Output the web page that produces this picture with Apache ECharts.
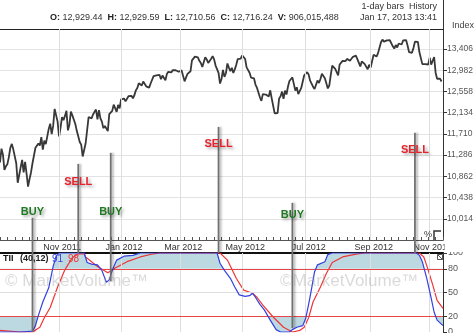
<!DOCTYPE html>
<html><head><meta charset="utf-8">
<script src="https://cdn.jsdelivr.net/npm/echarts@6/dist/echarts.min.js"></script>
<style>html,body{margin:0;padding:0;background:#fff}#c{width:474px;height:333px}</style>
</head><body><div id="c"></div>
<script>
// ---- DATA (x = trading-day index, 0 = 1 Sep 2011) ----
const firstDay = 2;
const closes = [
 11139,11414,11295,10992,11061,11105,11246,11433,11509,11401,11408,11124,10733,10771,11044,11190,10939,11153,10913,
 10655,10809,10939,11123,11103,11433,11417,11519,11478,11644,11397,11577,11505,11541,11809,11913,11706,11869,12209,12232,11955,
 11657,11836,12045,11984,12069,12170,11781,11893,12153,12079,12096,11906,11771,11796,11548,11494,11258,11231,11523,11556,12046,
 12020,12019,12098,12150,12196,11998,12184,12021,11955,11824,11869,11866,11766,12103,12107,12169,12294,12291,12151,12288,12218,
 12398,12418,12416,12360,12393,12462,12449,12471,12422,12482,12579,12625,12720,12709,12675,12757,12735,12660,12623,12633,
 12716,12705,12862,12845,12878,12884,12890,12801,12874,12878,12781,12904,12950,12966,12938,12985,12983,12981,13006,12952,
 12980,12978,12963,12759,12838,12908,12922,12960,13178,13194,13253,13233,13239,13170,13125,13046,13081,13242,13197,13127,13146,13212,
 13264,13199,13075,13060,12930,12716,12806,12987,12850,12921,13116,13033,12965,13029,12928,12999,13090,13204,13229,13214,
 13279,13269,13206,13038,13009,12932,12835,12855,12821,12695,12632,12598,12442,12369,12504,12502,12496,12530,12455,12580,12419,12393,
 12118,12101,12127,12414,12461,12554,12412,12574,12497,12652,12767,12742,12838,12824,12574,12641,12503,12535,12627,12602,12880,
 12871,12943,12897,12773,12736,12653,12605,12573,12777,12727,12806,12909,12943,12822,12721,12617,12676,12887,13075,13073,13009,
 12976,12879,13096,13118,13169,13176,13165,13208,13208,13172,13165,13250,13276,13272,13203,13173,13058,13158,13124,13103,13108,13001,13091,
 13036,13047,13292,13307,13254,13323,13333,13540,13594,13553,13565,13578,13597,13580,13559,13458,13414,13486,13437,
 13515,13483,13495,13575,13610,13584,13474,13345,13326,13329,13424,13551,13558,13548,13344,13346,13103,13078,13104,13107,13096,
 13232,13093,13112,13245,12932,12811,12815,12815,12756
];
const tiiDays  = [2,16,24,26,28,31,35,38,40,42,59,61,64,68,71,74,76,78,81,86,92,97,149,151,154,158,161,164,168,171,173,175,178,181,185,189,192,198,200,203,207,209,211,213,215,217,222,224,227,284,286,288,291,294,296,298,302];
const tiiValues= [0,0,1,8,21,38,56,83,96,100,100,88,86,85,78,63,66,78,91,96,97,100,100,87,78,68,57,47,45,46,49,44,35,28,15,3,0,0,3,6,8,17,35,55,76,85,89,98,100,100,97,89,68,43,25,15,8];
const sigDays  = [2,16,24,29,32,36,41,46,51,55,59,60,68,75,80,88,97,106,110,151,156,162,167,173,176,180,187,194,200,205,208,211,214,219,223,227,234,244,249,286,289,291,295,298,302];
const sigValues= [2,0,0,6,18,31,57,79,94,99,99,95,83,75,81,89,95,99,100,100,91,68,53,49,44,34,19,6,0,2,6,18,38,57,74,88,95,99,100,100,95,84,60,40,30];

const dayMin = 2, dayMax = 302;
const monthDays   = [42,84,124,166,209,253,293];
const monthLabels = ['Nov 2011','Jan 2012','Mar 2012','May 2012','Jul 2012','Sep 2012','Nov 2012'];
const priceMin = 9590, priceMax = 13805, priceStep = 424;
const tiiTicks = [0,20,50,80,100];
const tiiBands = [20,80];

const signalDays   = [24,55,77,150,200,283];
const signalTypes  = ['BUY','SELL','BUY','SELL','BUY','SELL'];
const signalTop    = [10034,11111,11331,11849,10333,11730];
const signalLabelY = [10154,10752,10154,11510,10094,11391];
const signalTii    = [0,100,64,100,5,100];

const header = { o:'12,929.44', h:'12,929.59', l:'12,710.56', c:'12,716.24', v:'906,015,488' };
const legendVals = ['91','98'];

// ---- CHART ----
const FONT = '"Liberation Sans", Arial, sans-serif';
const SHADE = '#bcd9e2';
const weekTicks = [];
for (let d = dayMin; d <= dayMax; d += 5) weekTicks.push(d);
const chart = echarts.init(document.getElementById('c'));
const priceData = closes.map((v,i)=>[firstDay+i, v]);
const blueData = tiiDays.map((d,i)=>[d, tiiValues[i]]);
const redData = sigDays.map((d,i)=>[d, sigValues[i]]);
const vLines = monthDays.map(d=>({xAxis:d}));
const mlBase = {silent:true, symbol:['none','none'], label:{show:false}, animation:false};
const hiddenX = (grid, pos, lw, color)=>({gridIndex:grid,type:'value',min:dayMin,max:dayMax,position:pos,
  axisLine:{show:true,onZero:false,lineStyle:{color:color,width:lw}},axisTick:{show:false},axisLabel:{show:false},splitLine:{show:false}});

const option = {
  animation:false,
  grid:[{left:0,right:31,top:29,height:211,outerBoundsMode:'none',containLabel:false},
        {left:0,right:31,top:253,height:79,outerBoundsMode:'none',containLabel:false}],
  xAxis:[
    {gridIndex:0,type:'value',min:dayMin,max:dayMax,position:'bottom',
     axisLine:{show:true,onZero:false,lineStyle:{color:'#555'}},
     axisTick:{show:true,inside:true,length:3,customValues:weekTicks,lineStyle:{color:'#555'}},
     axisLabel:{show:true,customValues:monthDays,formatter:v=>{const i=monthDays.indexOf(v);return i<0?'':monthLabels[i];},
       margin:3,fontSize:9,color:'#333',fontFamily:FONT,padding:[0,0,0,6]},
     splitLine:{show:false}},
    hiddenX(0,'top',1,'#222'),
    hiddenX(1,'top',2,'#111')
  ],
  yAxis:[
    {gridIndex:0,type:'value',position:'right',min:priceMin,max:priceMax,interval:priceStep,
     axisLine:{show:true,onZero:false,lineStyle:{color:'#333'}},
     axisTick:{show:true,length:4,lineStyle:{color:'#333'}},
     axisLabel:{showMinLabel:false,showMaxLabel:false,formatter:v=>v.toLocaleString('en-US'),fontSize:8.5,color:'#555',margin:4,fontFamily:FONT},
     splitLine:{show:true,lineStyle:{color:'#e3e3e3'}}},
    {gridIndex:1,type:'value',position:'right',min:0,max:100,interval:10,
     axisLine:{show:true,onZero:false,lineStyle:{color:'#333'}},
     axisTick:{show:true,length:4,customValues:tiiTicks,lineStyle:{color:'#333'}},
     axisLabel:{customValues:tiiTicks,formatter:v=>tiiTicks.indexOf(v)<0?'':String(v),fontSize:9,color:'#555',margin:5,fontFamily:FONT},
     splitLine:{show:false}}
  ],
  visualMap:[{type:'piecewise',show:false,seriesIndex:3,dimension:1,
    pieces:[{gt:tiiBands[1],color:SHADE},{gte:tiiBands[0],lte:tiiBands[1],color:'rgba(255,255,255,0)'},{lt:tiiBands[0],color:SHADE}]}],
  series:[
    {type:'line',xAxisIndex:0,yAxisIndex:0,data:[],z:1,
     markLine:Object.assign({lineStyle:{color:'#dedede',width:1,type:'solid'},data:vLines},mlBase)},
    {type:'line',xAxisIndex:0,yAxisIndex:0,data:priceData,symbol:'none',z:3,silent:true,
     lineStyle:{color:'#383838',width:1.8}},
    {type:'line',xAxisIndex:2,yAxisIndex:1,data:[],z:1,
     markLine:Object.assign({lineStyle:{color:'#dedede',width:1,type:'solid'},data:vLines.concat([{yAxis:50}])},mlBase)},
    {type:'line',xAxisIndex:2,yAxisIndex:1,data:blueData,symbol:'none',z:2,silent:true,
     lineStyle:{width:0,opacity:0},areaStyle:{origin:tiiBands[1],opacity:1}},
    {type:'line',xAxisIndex:2,yAxisIndex:1,data:[],z:3,
     markLine:Object.assign({lineStyle:{color:'#e84545',width:1,type:'solid'},data:tiiBands.map(v=>({yAxis:v}))},mlBase)},
    {type:'line',xAxisIndex:2,yAxisIndex:1,data:redData,symbol:'none',z:4,silent:true,
     lineStyle:{color:'#f03535',width:1.2}},
    {type:'line',xAxisIndex:2,yAxisIndex:1,data:blueData,symbol:'none',z:5,silent:true,
     lineStyle:{color:'#3340e0',width:1.2}}
  ]
};
chart.setOption(option);

// ---- graphics: header, legend, watermark, signals (positions via the axes) ----
const g = [];
const txt = (x,y,text,font,fill,align)=>({type:'text',x:x,y:y,z:80,silent:true,
  style:{text:text,font:font,fill:fill,align:align||'left',verticalAlign:'middle'}});
g.push({type:'line',z:80,silent:true,shape:{x1:443.5,y1:0,x2:443.5,y2:29},style:{stroke:'#333',lineWidth:1}});
g.push({type:'rect',z:79,silent:true,shape:{x:444.5,y:241,width:30,height:11},style:{fill:'#fff'}});
g.push(txt(437,7,'1-day bars  History','9px '+FONT,'#333','right'));
g.push(txt(437,18,'Jan 17, 2013 13:41','9px '+FONT,'#333','right'));
g.push({type:'text',x:50,y:18,z:80,silent:true,style:{
  text:'{b|O:} '+header.o+'  {b|H:} '+header.h+'  {b|L:} '+header.l+'  {b|C:} '+header.c+'  {b|V:} '+header.v,
  font:'9px '+FONT,fill:'#333',verticalAlign:'middle',rich:{b:{font:'bold 9px '+FONT,fill:'#222'}}}});
g.push(txt(452,26,'Index','9px '+FONT,'#444','left'));
g.push(txt(3,259,'TII','bold 9px '+FONT,'#111','left'));
g.push(txt(20,259,'(40,12)','bold 9px '+FONT,'#222','left'));
g.push(txt(52,259,legendVals[0],'10px '+FONT,'#3340e0','left'));
g.push(txt(68,259,legendVals[1],'10px '+FONT,'#f03535','left'));
g.push(txt(5,281,'\u00A9 MarketVolume\u2122','17px '+FONT,'rgba(150,150,150,0.35)','left'));
g.push(txt(280,281,'\u00A9MarketVolume\u2122','17px '+FONT,'rgba(150,150,150,0.35)','left'));
g.push(txt(424,235,'%','9px '+FONT,'#333','left'));
g.push({type:'polyline',z:80,silent:true,shape:{points:[[434,240],[434,231],[441,231]]},style:{stroke:'#333',lineWidth:1.5,fill:null}});
g.push({type:'rect',z:80,silent:true,shape:{x:437.5,y:254.5,width:5,height:5},style:{stroke:'#555',fill:'#fff',lineWidth:1}});
g.push({type:'line',z:81,silent:true,shape:{x1:437.5,y1:254.5,x2:442.5,y2:259.5},style:{stroke:'#555',lineWidth:1}});

signalDays.forEach((d,i)=>{
  const top = chart.convertToPixel({seriesIndex:1},[d,signalTop[i]]);
  const bot = chart.convertToPixel({seriesIndex:6},[d,signalTii[i]]);
  const lab = chart.convertToPixel({seriesIndex:1},[d,signalLabelY[i]]);
  g.push({type:'line',z:50,silent:true,shape:{x1:top[0],y1:top[1],x2:bot[0],y2:bot[1]},
    style:{stroke:'#707070',lineWidth:1.8,shadowColor:'rgba(0,0,0,0.3)',shadowBlur:2,shadowOffsetX:2}});
  const buy = signalTypes[i]==='BUY';
  g.push({type:'text',z:60,silent:true,x:lab[0],y:lab[1],style:{text:signalTypes[i],font:'bold 11px '+FONT,
    fill:buy?'#1f7a22':'#e8222c',align:'center',verticalAlign:'middle',
    textShadowColor:'rgba(0,0,0,0.35)',textShadowBlur:3,textShadowOffsetX:2,textShadowOffsetY:2,
    shadowColor:'rgba(0,0,0,0.35)',shadowBlur:3,shadowOffsetX:2,shadowOffsetY:2}});
});
chart.setOption({graphic:{elements:g}});
</script></body></html>
